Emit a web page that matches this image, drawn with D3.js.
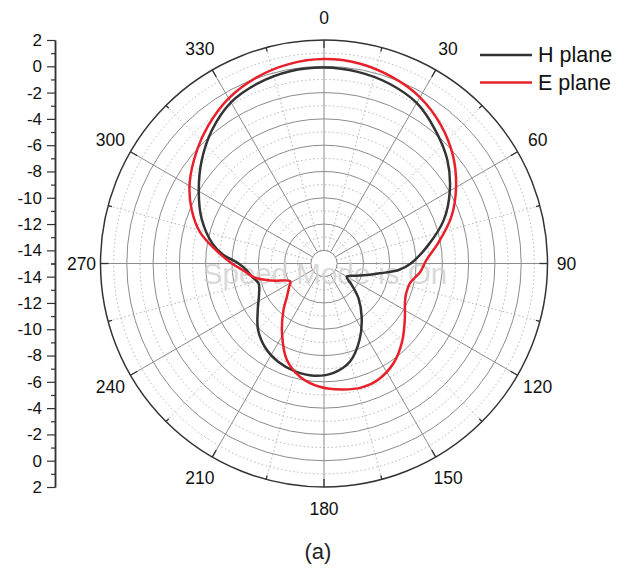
<!DOCTYPE html>
<html>
<head>
<meta charset="utf-8">
<script src="https://cdn.jsdelivr.net/npm/d3@7"></script>
<style>
  body { margin: 0; background: #fff; }
  text { font-family: "Liberation Sans", Arial, sans-serif; }
</style>
</head>
<body>
<div id="chart"></div>
<script>
// angles in degrees (clockwise from top), gain in dB
var hAngles = [0, 10, 20, 30, 40, 50, 60, 70, 80, 90, 95, 100, 105, 112, 120, 128, 135, 145, 155, 165, 175, 185, 195, 205, 215, 225, 235, 245, 253, 260, 265, 270, 275, 280, 290, 300, 310, 320, 330, 340, 350];
var hValues = [-0.1, -0.2, -0.45, -0.9, -1.8, -2.75, -3.95, -5.3, -6.95, -8.4, -9.3, -10.7, -11.6, -12.5, -13.0, -12.3, -11.3, -10.0, -8.6, -7.3, -6.65, -6.43, -6.5, -6.75, -7.2, -7.9, -8.85, -9.55, -9.8, -9.4, -9.1, -8.5, -7.3, -6.4, -5.1, -4.0, -2.85, -1.75, -0.85, -0.4, -0.15];

var eAngles = [0, 10, 20, 30, 40, 50, 60, 70, 80, 88, 95, 103, 110, 115, 125, 135, 145, 155, 163, 172, 182, 192, 201, 211, 221, 228, 236, 242, 252, 259, 265, 270, 275, 284, 292, 301, 312, 320, 330, 340, 350];
var eValues = [0.55, 0.45, 0.1, -0.4, -1.2, -2.2, -3.4, -4.7, -6.2, -7.2, -7.65, -8.3, -8.35, -8.2, -7.5, -6.6, -5.76, -5.25, -5.15, -5.33, -5.62, -6.2, -7.13, -8.8, -10.3, -11.2, -11.8, -12.1, -10.8, -9.55, -8.85, -8.0, -7.1, -5.3, -4.15, -3.08, -2.03, -1.3, -0.5, 0.05, 0.4];

var angleTicks = [0, 30, 60, 90, 120, 150, 180, 210, 240, 270, 300, 330];
var radialTicks = [-14, -12, -10, -8, -6, -4, -2, 0, 2];
var seriesNames = ['H plane', 'E plane'];
var seriesColors = ['#333333', '#e8202a'];

var width = 627, height = 575;
var cx = 324, cy = 263.5, R = 223.5;

var svg = d3.select('#chart').append('svg').attr('width', width).attr('height', height);

var r = d3.scaleLinear().domain([-15, 2]).range([0, R]);
var rad = function(d) { return d * Math.PI / 180; };

var g = svg.append('g').attr('transform', 'translate(' + cx + ',' + cy + ')');

// grid circles
d3.range(-13, 2, 1).forEach(function(v) {
  var major = v % 2 == 0;
  g.append('circle').attr('r', r(v)).attr('fill', 'none')
    .attr('stroke', major ? '#8c8c8c' : '#b4b4b4')
    .attr('stroke-width', 1)
    .attr('stroke-dasharray', major ? null : '1.5,2.5');
});

// spokes
d3.range(0, 360, 15).forEach(function(a) {
  var major = a % 30 == 0;
  var s = Math.sin(rad(a)), c = -Math.cos(rad(a));
  g.append('line')
    .attr('x1', r(-14) * s).attr('y1', r(-14) * c)
    .attr('x2', R * s).attr('y2', R * c)
    .attr('stroke', major ? '#8c8c8c' : '#b4b4b4')
    .attr('stroke-width', 1)
    .attr('stroke-dasharray', major ? null : '1.5,2.5');
  var len = major ? 8 : 4;
  g.append('line')
    .attr('x1', (R - len) * s).attr('y1', (R - len) * c)
    .attr('x2', R * s).attr('y2', R * c)
    .attr('stroke', '#333').attr('stroke-width', 1.3);
});

// inner and outer circle
g.append('circle').attr('r', r(-14)).attr('fill', '#fff').attr('stroke', '#8c8c8c');
g.append('circle').attr('r', R).attr('fill', 'none').attr('stroke', '#333').attr('stroke-width', 1.5);

// angle labels
var labelR = function(d) {
  var s = Math.sin(rad(d));
  return R + 22 + 4 * Math.abs(Math.sin(rad(2 * d))) - 3 * s * s;
};
g.selectAll('.alabel').data(angleTicks).enter().append('text')
  .attr('class', 'alabel')
  .attr('x', function(d) { return labelR(d) * Math.sin(rad(d)); })
  .attr('y', function(d) { return -labelR(d) * Math.cos(rad(d)); })
  .attr('text-anchor', 'middle')
  .attr('dominant-baseline', 'central')
  .attr('font-size', 17.5)
  .attr('fill', '#111')
  .text(function(d) { return d; });

// watermark
g.append('text')
  .attr('x', 1).attr('y', 20)
  .attr('text-anchor', 'middle')
  .attr('font-family', '"Liberation Mono", "Courier New", monospace')
  .attr('font-size', 29.5)
  .attr('fill', '#d2d2d2')
  .attr('fill-opacity', 0.85)
  .text('Speed Mode is On');

// curves
var line = d3.lineRadial()
  .angle(function(d) { return rad(d[0]); })
  .radius(function(d) { return r(d[1]); })
  .curve(d3.curveCatmullRomClosed.alpha(0.5));

var hData = d3.zip(hAngles, hValues);
var eData = d3.zip(eAngles, eValues);

g.append('path').datum(hData).attr('d', line)
  .attr('fill', 'none').attr('stroke', seriesColors[0]).attr('stroke-width', 2.5);
g.append('path').datum(eData).attr('d', line)
  .attr('fill', 'none').attr('stroke', seriesColors[1]).attr('stroke-width', 2.5);

// left radial axis, mirrored
var yTop = d3.scaleLinear().domain([-15, 2]).range([cy, cy - R]);
var yBot = d3.scaleLinear().domain([-15, 2]).range([cy, cy + R]);
var minorVals = d3.range(-15, 2, 2);

[yTop, yBot].forEach(function(sc) {
  var ax = svg.append('g').attr('transform', 'translate(55,0)');
  ax.call(d3.axisLeft(sc).tickValues(minorVals).tickSize(4).tickSizeOuter(0).tickFormat(''));
  var ax2 = svg.append('g').attr('transform', 'translate(55,0)');
  ax2.call(d3.axisLeft(sc).tickValues(radialTicks).tickSize(8).tickSizeOuter(0).tickPadding(5)
    .tickFormat(function(d) { return String(d); }));
  ax2.selectAll('text').attr('font-size', 17).attr('font-family', '"Liberation Sans", Arial, sans-serif').attr('fill', '#111');
  svg.selectAll('.domain').attr('stroke', '#333').attr('stroke-width', 1.5);
  svg.selectAll('.tick line').attr('stroke', '#333').attr('stroke-width', 1.2);
});

// legend
var legend = svg.append('g').attr('transform', 'translate(480,55)');
seriesNames.forEach(function(name, i) {
  legend.append('line').attr('x1', 0).attr('x2', 52).attr('y1', i * 27.5).attr('y2', i * 27.5)
    .attr('stroke', seriesColors[i]).attr('stroke-width', 2.5);
  legend.append('text').attr('x', 58).attr('y', i * 27.5)
    .attr('dominant-baseline', 'central')
    .attr('font-size', 21.5).attr('fill', '#111')
    .text(name);
});

// caption
svg.append('text')
  .attr('x', 318).attr('y', 551)
  .attr('text-anchor', 'middle').attr('dominant-baseline', 'central')
  .attr('font-family', '"Open Sans", sans-serif')
  .attr('font-size', 22).attr('fill', '#222')
  .text('(a)');
</script>
</body>
</html>
